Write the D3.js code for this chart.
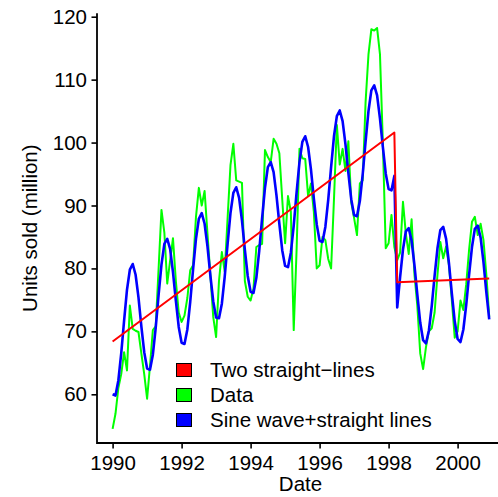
<!DOCTYPE html>
<html>
<head>
<meta charset="utf-8">
<script src="https://cdn.jsdelivr.net/npm/d3@7"></script>
<style>
  html, body { margin: 0; padding: 0; background: #fff; }
  svg { display: block; }
  text { font-family: "Liberation Sans", Arial, Helvetica, sans-serif; fill: #000; }
</style>
</head>
<body>
<svg id="chart" width="498" height="497"></svg>
<script>
// ---- data (monthly, Jan 1990 .. Dec 2000) ----
const startYear = 1990;
const dataValues = [
  54.5, 56.9, 61.0, 63.2, 66.7, 63.8, 74.1, 70.4, 70.1, 69.9, 66.5, 63.2,
  59.3, 64.5, 70.2, 70.8, 80.0, 89.3, 85.7, 77.6, 81.2, 84.8, 78.0, 73.0,
  71.5, 72.5, 75.3, 79.7, 80.5, 88.2, 92.8, 90.0, 92.3, 85.5, 79.0, 72.3,
  69.1, 78.0, 82.6, 79.5, 88.0, 96.4, 99.8, 94.0, 93.8, 93.6, 78.0, 75.5,
  74.9, 76.8, 83.4, 83.7, 83.9, 98.8, 97.7, 96.9, 100.6, 99.8, 98.3, 91.0,
  84.0, 91.5, 89.0, 70.2, 83.0, 99.0, 97.5, 97.4, 91.5, 93.5, 89.0, 80.0,
  80.5, 85.0, 84.5, 81.5, 80.0, 91.0, 102.8, 96.5, 99.0, 95.5, 100.2, 90.5,
  88.0, 85.3, 93.5, 94.0, 106.5, 114.0, 118.0, 117.8, 118.2, 114.0, 100.0, 83.2,
  84.0, 88.5, 83.4, 81.3, 82.5, 90.6, 85.5, 82.3, 87.8, 79.0, 74.0, 66.5,
  64.0, 67.5, 70.0, 70.5, 73.0, 79.0, 84.2, 81.6, 83.5, 80.5, 74.9, 69.0,
  70.0, 74.9, 73.4, 77.5, 83.0, 87.4, 88.2, 85.3, 87.1, 84.5, 79.0, 72.3
];
const sineValues = [
  60.0, 59.8, 62.2, 66.5, 71.7, 76.6, 79.8, 80.7, 79.0, 75.4, 70.8, 66.7,
  64.1, 63.9, 66.3, 70.6, 75.8, 80.6, 83.9, 84.7, 83.1, 79.4, 74.9, 70.7,
  68.2, 68.0, 70.3, 74.7, 79.9, 84.7, 87.9, 88.8, 87.1, 83.5, 78.9, 74.8,
  72.2, 72.1, 74.4, 78.7, 83.9, 88.8, 92.0, 92.9, 91.2, 87.6, 83.0, 78.8,
  76.3, 76.1, 78.5, 82.8, 88.0, 92.8, 96.1, 96.9, 95.3, 91.6, 87.1, 82.9,
  80.4, 80.2, 82.5, 86.8, 92.1, 96.9, 100.1, 101.0, 99.3, 95.7, 91.1, 87.0,
  84.4, 84.2, 86.6, 90.9, 96.1, 101.0, 104.2, 105.1, 103.4, 99.7, 95.2, 91.0,
  88.5, 88.3, 90.7, 95.0, 100.2, 105.0, 108.3, 109.1, 107.5, 103.8, 99.3, 95.1,
  92.6, 92.4, 94.7, 73.8, 78.6, 83.0, 85.9, 86.4, 84.4, 80.5, 75.8, 71.4,
  68.6, 68.1, 70.1, 74.0, 78.8, 83.2, 86.1, 86.6, 84.7, 80.8, 76.0, 71.6,
  68.8, 68.3, 70.3, 74.2, 79.0, 83.4, 86.3, 86.8, 84.9, 81.0, 76.2, 71.9
];
// straight-line breakpoints (decimal years) and values
const lineDates = [1990.0, 1998.1667, 1998.25, 2000.9167];
const lineValues = [68.4, 101.6, 77.8, 78.4];

const xTicks = [1990, 1992, 1994, 1996, 1998, 2000];
const yTicks = [60, 70, 80, 90, 100, 110, 120];
const legendLabels = ["Two straight\u2212lines", "Data", "Sine wave+straight lines"];
const legendColors = ["#ff0000", "#00ff00", "#0000ff"];

// ---- layout ----
const svg = d3.select("#chart");
const FS = 20.5;
const plotLeft = 97, plotBottom = 443, plotTop = 13.3, plotRight = 504;

const x = d3.scaleLinear().domain([1990, 2000]).range([112.6, 457.6]);
const y = d3.scaleLinear().domain([60, 120]).range([394.3, 16.7]);

const monthDate = i => startYear + i / 12;

// ---- lines ----
const line = d3.line().x(d => x(d[0])).y(d => y(d[1]));

svg.append("path")
  .attr("d", line(dataValues.map((v, i) => [monthDate(i), v])))
  .attr("fill", "none").attr("stroke", "#00ff00").attr("stroke-width", 2)
  .attr("stroke-linejoin", "round");

svg.append("path")
  .attr("d", line(sineValues.map((v, i) => [monthDate(i), v])))
  .attr("fill", "none").attr("stroke", "#0000ff").attr("stroke-width", 2.6)
  .attr("stroke-linejoin", "round");

svg.append("path")
  .attr("d", line(lineDates.map((d, i) => [d, lineValues[i]])))
  .attr("fill", "none").attr("stroke", "#ff0000").attr("stroke-width", 2)
  .attr("stroke-linejoin", "round");

// ---- axes ----
const yAxis = d3.axisLeft(y).tickValues(yTicks).tickSize(5.5).tickPadding(4.5).tickSizeOuter(0);
const gy = svg.append("g").attr("transform", `translate(${plotLeft},0)`).call(yAxis);
gy.select(".domain").remove();
gy.selectAll("text").attr("font-size", FS).style("font-family", '"Liberation Sans", Arial, sans-serif');
gy.selectAll("line").attr("stroke", "#000").attr("stroke-width", 1.6);

const xAxis = d3.axisBottom(x).tickValues(xTicks).tickFormat(d3.format("d")).tickSize(5.5).tickPadding(7).tickSizeOuter(0);
const gx = svg.append("g").attr("transform", `translate(0,${plotBottom})`).call(xAxis);
gx.select(".domain").remove();
gx.selectAll("text").attr("font-size", FS).style("font-family", '"Liberation Sans", Arial, sans-serif');
gx.selectAll("line").attr("stroke", "#000").attr("stroke-width", 1.6);

// L-shaped box
svg.append("path")
  .attr("d", `M${plotLeft},${plotTop}V${plotBottom}H${plotRight}`)
  .attr("fill", "none").attr("stroke", "#000").attr("stroke-width", 1.8);

// axis titles
svg.append("text")
  .attr("x", (plotLeft + plotRight) / 2).attr("y", 490.5)
  .attr("text-anchor", "middle").attr("font-size", FS).text("Date");

svg.append("text")
  .attr("transform", `translate(37,${(plotTop + plotBottom) / 2}) rotate(-90)`)
  .attr("text-anchor", "middle").attr("font-size", FS).text("Units sold (million)");

// ---- legend ----
const lg = svg.append("g");
legendLabels.forEach((lab, i) => {
  const cy = 370 + i * 25;
  lg.append("rect").attr("x", 176.5).attr("y", cy - 6.5).attr("width", 15).attr("height", 13)
    .attr("fill", legendColors[i]).attr("stroke", "#000").attr("stroke-width", 1);
  lg.append("text").attr("x", 210).attr("y", cy + 7.3).attr("font-size", FS).text(lab);
});
</script>
</body>
</html>
